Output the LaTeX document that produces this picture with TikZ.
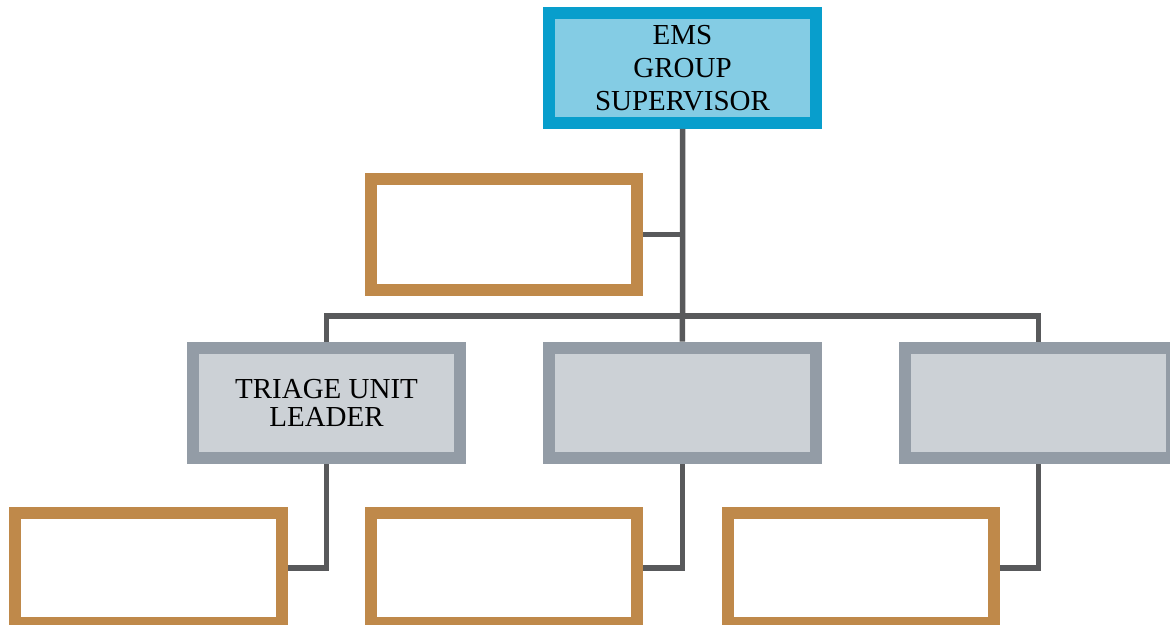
\documentclass[tikz,border=0pt]{standalone}
\usepackage{fontspec}
\setmainfont{Liberation Serif}
\usetikzlibrary{positioning,calc}

\definecolor{emsblue}{RGB}{8,158,204}
\definecolor{emsfill}{RGB}{132,204,228}
\definecolor{unitgray}{RGB}{147,156,166}
\definecolor{unitfill}{RGB}{204,209,214}
\definecolor{slotbrown}{RGB}{191,137,74}
\definecolor{linkgray}{RGB}{88,89,91}

\begin{document}
\begin{tikzpicture}[
    x=0.02cm, y=-0.02cm,
    node distance=1.54cm,
    chief/.style={rectangle, draw=emsblue, fill=emsfill, line width=0.24cm, minimum width=5.36cm, minimum height=2.2cm, inner sep=0pt, align=center, font=\fontsize{16.5}{18.8}\selectfont},
    unit/.style={rectangle, draw=unitgray, fill=unitfill, line width=0.24cm, minimum width=5.34cm, minimum height=2.22cm, inner sep=0pt, align=center, font=\fontsize{16.5}{15.6}\selectfont},
    slot/.style={rectangle, draw=slotbrown, fill=white, line width=0.24cm, minimum width=5.34cm, minimum height=2.22cm},
    link/.style={draw=linkgray, line width=0.11cm}
]
    \clip (0,0) rectangle (1170,625);

    \node [chief] (ems) at (682.5,68) {EMS\\GROUP\\SUPERVISOR};
    \node [slot] (aide) at (504,234.5) {};
    \node [unit] (triage) at (326.5,403) {TRIAGE UNIT\\LEADER};
    \node [unit, right=of triage] (unitb) {};
    \node [unit, right=of unitb] (unitc) {};
    \node [slot] (suba) at (148.5,568) {};
    \node [slot] (subb) at (504,568) {};
    \node [slot] (subc) at (861,568) {};

    \coordinate (bus) at (682.5,316);
    \path [link] (ems.south) -- (bus) -- (unitb.north);
    \path [link] (triage.north) |- (bus) -| (unitc.north);
    \path [link] (aide.east) -- (aide.east -| ems.south);
    \path [link] (triage.south) |- (suba.east);
    \path [link] (unitb.south) |- (subb.east);
    \path [link] (unitc.south) |- (subc.east);
\end{tikzpicture}
\end{document}
